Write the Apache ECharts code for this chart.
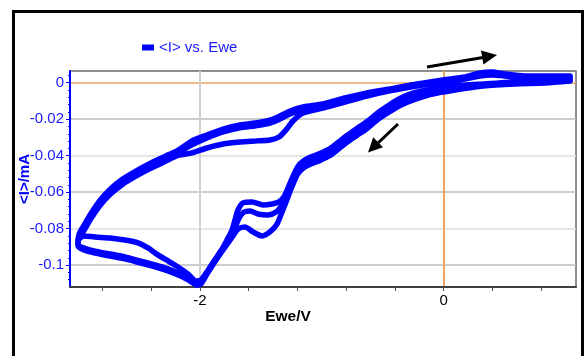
<!DOCTYPE html>
<html><head><meta charset="utf-8">
<script src="https://cdn.jsdelivr.net/npm/echarts@6/dist/echarts.min.js"></script>
<style>html,body{margin:0;padding:0;background:#fff}#c{width:585px;height:356px}</style>
</head><body><div id="c"></div>
<script>
// ---- data (Ewe in V, <I> in mA), three CV cycles ----
const cycle1E = [1.037,0.831,0.585,0.323,0.093,-0.112,-0.260,-0.359,-0.441,-0.539,-0.629,-0.712,-0.794,-0.867,-0.933,-1.015,-1.081,-1.146,-1.196,-1.245,-1.286,-1.311,-1.352,-1.409,-1.483,-1.573,-1.647,-1.688,-1.713,-1.737,-1.778,-1.819,-1.885,-1.943,-1.992,-2.033,
  -2.098,-2.181,-2.263,-2.345,-2.427,-2.509,-2.616,-2.739,-2.862,-2.952,-3.001,
  -2.952,-2.895,-2.821,-2.739,-2.640,-2.533,-2.410,-2.287,-2.181,-2.066,-1.943,-1.811,-1.672,-1.532,-1.426,-1.352,-1.294,-1.237,-1.155,-0.991,-0.810,-0.629,-0.441,-0.219,-0.006,0.175,0.298,0.396,0.503,0.667,0.856,1.037];
const cycle1I = [0.0020,0.0009,0.0004,-0.0007,-0.0018,-0.0037,-0.0059,-0.0087,-0.0120,-0.0164,-0.0213,-0.0251,-0.0290,-0.0328,-0.0361,-0.0388,-0.0405,-0.0427,-0.0460,-0.0526,-0.0591,-0.0626,-0.0654,-0.0665,-0.0670,-0.0654,-0.0659,-0.0698,-0.0753,-0.0807,-0.0862,-0.0912,-0.0977,-0.1037,-0.1081,-0.1087,
  -0.1049,-0.1010,-0.0977,-0.0944,-0.0906,-0.0878,-0.0862,-0.0851,-0.0846,-0.0840,-0.0862,
  -0.0810,-0.0745,-0.0673,-0.0613,-0.0559,-0.0515,-0.0471,-0.0432,-0.0399,-0.0385,-0.0358,-0.0336,-0.0325,-0.0319,-0.0314,-0.0298,-0.0259,-0.0210,-0.0166,-0.0139,-0.0106,-0.0073,-0.0045,-0.0018,0.0004,0.0020,0.0037,0.0042,0.0037,0.0026,0.0026,0.0026];

const cycle2E = [1.037,0.831,0.585,0.323,0.093,-0.112,-0.260,-0.359,-0.441,-0.539,-0.629,-0.712,-0.794,-0.867,-0.933,-1.015,-1.081,-1.146,-1.196,-1.245,-1.286,-1.327,-1.376,-1.442,-1.524,-1.590,-1.639,-1.680,-1.713,-1.762,-1.819,-1.885,-1.943,-1.992,-2.025,
  -2.082,-2.164,-2.263,-2.369,-2.492,-2.616,-2.739,-2.862,-2.952,-3.001,
  -2.993,-2.952,-2.895,-2.821,-2.739,-2.640,-2.533,-2.410,-2.287,-2.181,-2.066,-1.943,-1.811,-1.672,-1.549,-1.450,-1.360,-1.261,-1.155,-0.991,-0.810,-0.629,-0.441,-0.219,-0.006,0.175,0.298,0.396,0.503,0.667,0.856,1.037];
const cycle2I = [0.0015,0.0004,-0.0002,-0.0013,-0.0029,-0.0051,-0.0078,-0.0106,-0.0139,-0.0182,-0.0232,-0.0270,-0.0308,-0.0347,-0.0380,-0.0407,-0.0424,-0.0446,-0.0479,-0.0550,-0.0616,-0.0670,-0.0709,-0.0725,-0.0720,-0.0703,-0.0709,-0.0742,-0.0796,-0.0862,-0.0917,-0.0983,-0.1043,-0.1092,-0.1098,
  -0.1076,-0.1049,-0.1021,-0.0999,-0.0977,-0.0955,-0.0939,-0.0923,-0.0906,-0.0889,
  -0.0846,-0.0796,-0.0731,-0.0659,-0.0599,-0.0545,-0.0501,-0.0457,-0.0418,-0.0385,-0.0341,-0.0303,-0.0270,-0.0248,-0.0237,-0.0226,-0.0204,-0.0172,-0.0150,-0.0128,-0.0095,-0.0067,-0.0040,-0.0013,0.0009,0.0026,0.0048,0.0053,0.0042,0.0031,0.0031,0.0031];

const cycle3E = [1.037,0.831,0.585,0.323,0.093,-0.112,-0.260,-0.359,-0.441,-0.539,-0.629,-0.712,-0.794,-0.867,-0.933,-1.015,-1.081,-1.146,-1.196,-1.245,-1.286,-1.327,-1.368,-1.426,-1.491,-1.565,-1.631,-1.688,-1.729,-1.770,-1.819,-1.885,-1.943,-1.992,-2.025,
  -2.082,-2.164,-2.263,-2.369,-2.492,-2.616,-2.739,-2.862,-2.952,-3.001,
  -2.993,-2.952,-2.895,-2.821,-2.739,-2.640,-2.533,-2.410,-2.287,-2.181,-2.066,-1.943,-1.811,-1.672,-1.549,-1.450,-1.360,-1.261,-1.155,-0.991,-0.810,-0.629,-0.441,-0.219,-0.006,0.175,0.298,0.396,0.503,0.667,0.856,1.037];
const cycle3I = [0.0009,-0.0002,-0.0007,-0.0018,-0.0040,-0.0065,-0.0097,-0.0125,-0.0158,-0.0201,-0.0251,-0.0289,-0.0327,-0.0366,-0.0399,-0.0426,-0.0443,-0.0465,-0.0498,-0.0569,-0.0640,-0.0709,-0.0775,-0.0818,-0.0840,-0.0818,-0.0791,-0.0802,-0.0840,-0.0878,-0.0923,-0.0988,-0.1049,-0.1103,-0.1109,
  -0.1087,-0.1059,-0.1032,-0.1010,-0.0988,-0.0966,-0.0950,-0.0934,-0.0917,-0.0895,
  -0.0832,-0.0782,-0.0717,-0.0645,-0.0585,-0.0531,-0.0487,-0.0443,-0.0404,-0.0371,-0.0319,-0.0287,-0.0254,-0.0232,-0.0221,-0.0210,-0.0188,-0.0155,-0.0133,-0.0117,-0.0084,-0.0056,-0.0035,-0.0007,0.0015,0.0031,0.0053,0.0059,0.0048,0.0037,0.0037,0.0037];

const yTickValues = [-0.1,-0.08,-0.06,-0.04,-0.02,0];
const xTickValues = [-2.8,-2.4,-2.0,-1.6,-1.2,-0.8,-0.4,0,0.4,0.8];
const xLabelValues = [-2,0];
const xGridValues = [-2,0];
const seriesName = '<I> vs. Ewe';
const xName = 'Ewe/V';
const yName = '<I>/mA';

// ---- chart ----
const FONT = '"Liberation Sans", Arial, sans-serif';
const BLUE = '#0000ff';
const ORANGE = '#eba461';
const X_MIN = -3.067, X_MAX = 1.086, Y_MIN = -0.112, Y_MAX = 0.0064;

function pairs(e, i) { return e.map((v, k) => [v, i[k]]); }
const cycles = [pairs(cycle1E, cycle1I), pairs(cycle2E, cycle2I), pairs(cycle3E, cycle3I)];

const chart = echarts.init(document.getElementById('c'), null, {renderer: 'canvas'});
chart.setOption({
  animation: false,
  backgroundColor: '#ffffff',
  textStyle: {fontFamily: FONT},
  legend: {
    data: [seriesName], left: 137, top: 35, icon: 'rect', itemWidth: 12, itemHeight: 6,
    textStyle: {color: '#1a1aff', fontSize: 15, fontFamily: FONT}
  },
  grid: {left: 70, right: 9, top: 71, bottom: 69, show: true, borderColor: '#6a6a6a', borderWidth: 1.5, containLabel: false},
  xAxis: [{
    type: 'value', min: X_MIN, max: X_MAX,
    name: xName, nameLocation: 'middle', nameGap: 22, nameMoveOverlap: false,
    nameTextStyle: {color: '#000', fontSize: 15.5, fontWeight: 'bold', fontFamily: FONT, padding: [0, 70, 0, 0]},
    axisLine: {show: true, onZero: false, lineStyle: {color: '#404040', width: 2}},
    axisTick: {show: true, inside: false, length: 4, customValues: xTickValues, lineStyle: {color: '#505050', width: 1}},
    axisLabel: {show: true, customValues: xLabelValues, margin: 6, color: '#000', fontSize: 15, fontFamily: FONT},
    splitLine: {show: false}
  }, {
    type: 'value', min: X_MIN, max: X_MAX, position: 'top',
    axisLine: {show: false}, axisLabel: {show: false},
    axisTick: {show: false, customValues: xGridValues},
    splitLine: {show: true, lineStyle: {color: ['#d0d0d0', ORANGE], width: 2}}
  }],
  yAxis: {
    type: 'value', min: Y_MIN, max: Y_MAX,
    name: yName, nameLocation: 'middle', nameGap: 38, nameRotate: 90, nameMoveOverlap: false,
    nameTextStyle: {color: BLUE, fontSize: 15, fontWeight: 'bold', fontFamily: FONT},
    axisLine: {show: true, onZero: false, lineStyle: {color: BLUE, width: 2}},
    axisTick: {show: true, length: 4, customValues: yTickValues, lineStyle: {color: BLUE, width: 1}},
    minorTick: {show: true, splitNumber: 5, length: 2, lineStyle: {color: BLUE, width: 1}},
    axisLabel: {show: true, customValues: yTickValues, margin: 6, color: '#1a1aff', fontSize: 15, fontFamily: FONT},
    splitLine: {show: true, lineStyle: {color: ['#bdbdbd', '#dddddd', '#bdbdbd', '#dddddd', '#bdbdbd', ORANGE], width: 1.6}}
  },
  series: cycles.map(d => ({
    name: seriesName, type: 'line', data: d, xAxisIndex: 0, yAxisIndex: 0,
    showSymbol: false, symbol: 'none', smooth: 0.25,
    lineStyle: {color: BLUE, width: 5.5, cap: 'round', join: 'round'},
    itemStyle: {color: BLUE}
  })),
  graphic: [
    {type: 'rect', shape: {x: 13.5, y: 11.5, width: 569, height: 360}, style: {fill: null, stroke: '#000', lineWidth: 3}, z: 100},
    {type: 'line', shape: {x1: 427, y1: 67, x2: 483, y2: 57.5}, style: {stroke: '#000', lineWidth: 3}, z: 100},
    {type: 'polygon', shape: {points: [[497, 55], [483.4, 64.4], [481.0, 50.6]]}, style: {fill: '#000'}, z: 100},
    {type: 'line', shape: {x1: 398, y1: 124, x2: 378, y2: 143}, style: {stroke: '#000', lineWidth: 3}, z: 100},
    {type: 'polygon', shape: {points: [[368, 152.5], [383, 147.3], [373.2, 137.3]]}, style: {fill: '#000'}, z: 100}
  ]
});
</script>
</body></html>
